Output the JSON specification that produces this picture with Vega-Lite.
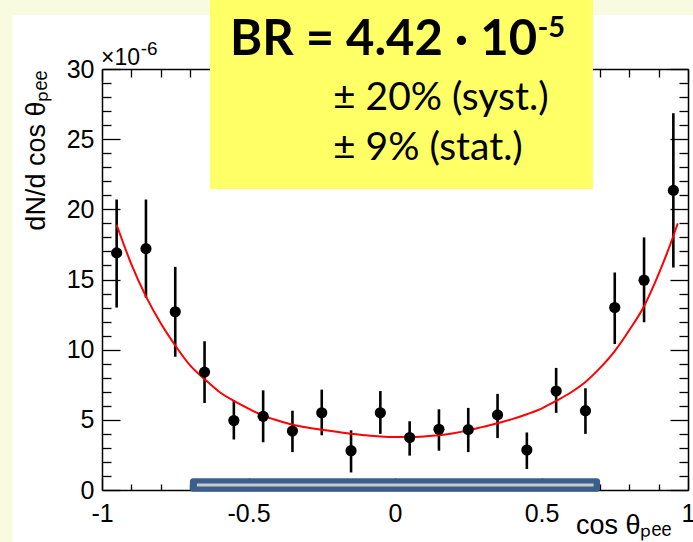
{
  "$schema": "https://vega.github.io/schema/vega-lite/v6.json",
  "width": 586,
  "height": 421,
  "autosize": {"type": "none"},
  "padding": {"left": 102, "top": 69, "right": 5, "bottom": 52},
  "background": "white",
  "config": {
    "view": {"stroke": null},
    "axis": {"grid": false, "zindex": 0, "domainColor": "black", "tickColor": "black", "labelColor": "black", "titleColor": "black", "domainWidth": 1.5, "tickWidth": 1.3}
  },
  "data": {"values": [{}]},
  "datasets": {
    "points": [
      {"x": -0.95, "y": 16.9, "lo": 13.0, "hi": 20.7},
      {"x": -0.85, "y": 17.2, "lo": 13.7, "hi": 20.7},
      {"x": -0.75, "y": 12.7, "lo": 9.5, "hi": 15.9},
      {"x": -0.65, "y": 8.4, "lo": 6.2, "hi": 10.6},
      {"x": -0.55, "y": 4.95, "lo": 3.6, "hi": 6.4},
      {"x": -0.45, "y": 5.25, "lo": 3.4, "hi": 7.1},
      {"x": -0.35, "y": 4.2, "lo": 2.7, "hi": 5.65},
      {"x": -0.25, "y": 5.5, "lo": 3.9, "hi": 7.15},
      {"x": -0.15, "y": 2.8, "lo": 1.25, "hi": 4.25},
      {"x": -0.05, "y": 5.5, "lo": 4.0, "hi": 7.05},
      {"x": 0.05, "y": 3.74, "lo": 2.45, "hi": 4.9},
      {"x": 0.15, "y": 4.33, "lo": 2.8, "hi": 5.75},
      {"x": 0.25, "y": 4.3, "lo": 2.7, "hi": 5.85},
      {"x": 0.35, "y": 5.35, "lo": 3.7, "hi": 6.85},
      {"x": 0.45, "y": 2.85, "lo": 1.5, "hi": 4.1},
      {"x": 0.55, "y": 7.05, "lo": 5.5, "hi": 8.7},
      {"x": 0.65, "y": 5.65, "lo": 4.0, "hi": 7.25},
      {"x": 0.75, "y": 13.0, "lo": 10.4, "hi": 15.5},
      {"x": 0.85, "y": 14.95, "lo": 11.95, "hi": 18.0},
      {"x": 0.95, "y": 21.35, "lo": 15.85, "hi": 26.85}
    ],
    "curve": [
      {"x": -0.95, "y": 18.9}, {"x": -0.9, "y": 16.1}, {"x": -0.85, "y": 13.8}, {"x": -0.8, "y": 11.9},
      {"x": -0.75, "y": 10.3}, {"x": -0.7, "y": 8.9}, {"x": -0.65, "y": 7.9}, {"x": -0.6, "y": 7.0},
      {"x": -0.55, "y": 6.35}, {"x": -0.5, "y": 5.8}, {"x": -0.45, "y": 5.3}, {"x": -0.4, "y": 4.95},
      {"x": -0.35, "y": 4.65}, {"x": -0.3, "y": 4.45}, {"x": -0.25, "y": 4.3}, {"x": -0.2, "y": 4.15},
      {"x": -0.15, "y": 4.0}, {"x": -0.1, "y": 3.9}, {"x": -0.05, "y": 3.82}, {"x": 0, "y": 3.78},
      {"x": 0.05, "y": 3.78}, {"x": 0.1, "y": 3.82}, {"x": 0.15, "y": 3.9}, {"x": 0.2, "y": 4.05},
      {"x": 0.25, "y": 4.25}, {"x": 0.3, "y": 4.5}, {"x": 0.35, "y": 4.75}, {"x": 0.4, "y": 5.05},
      {"x": 0.45, "y": 5.4}, {"x": 0.5, "y": 5.8}, {"x": 0.55, "y": 6.35}, {"x": 0.6, "y": 6.95},
      {"x": 0.65, "y": 7.7}, {"x": 0.7, "y": 8.7}, {"x": 0.75, "y": 9.9}, {"x": 0.8, "y": 11.4},
      {"x": 0.85, "y": 13.1}, {"x": 0.9, "y": 15.4}, {"x": 0.95, "y": 18.1}, {"x": 0.965, "y": 19.0}
    ]
  },
  "layer": [
    {
      "mark": {"type": "rect", "color": "#F9FBE0"},
      "encoding": {
        "x": {"datum": -1.35, "type": "quantitative", "axis": null, "scale": {"domain": [-1, 1], "nice": false, "zero": false}},
        "x2": {"datum": -1.306},
        "y": {"datum": 34.92, "type": "quantitative", "axis": null, "scale": {"domain": [0, 30], "nice": false, "zero": false}},
        "y2": {"datum": -3.71}
      }
    },
    {
      "mark": {"type": "rect", "color": "#F9FBE0"},
      "encoding": {
        "x": {"datum": -1.35, "type": "quantitative", "axis": null},
        "x2": {"datum": 1.05},
        "y": {"datum": 34.92, "type": "quantitative", "axis": null},
        "y2": {"datum": 33.85}
      }
    },
    {
      "mark": {"type": "rect", "color": "#FFFF66"},
      "encoding": {
        "x": {"datum": -0.6314, "type": "quantitative", "axis": null},
        "x2": {"datum": 0.6758},
        "y": {"datum": 34.92, "type": "quantitative", "axis": null},
        "y2": {"datum": 21.45}
      }
    },
    {
      "data": {"name": "points"},
      "mark": {"type": "rule", "color": "black", "strokeWidth": 2.6},
      "encoding": {
        "x": {"field": "x", "type": "quantitative",
          "axis": {"orient": "bottom", "values": [-1, -0.5, 0, 0.5, 1], "tickSize": -12, "labelPadding": 23, "labelFlush": false,
            "labelExpr": "toString(datum.value)", "labelFont": "Liberation Sans", "labelFontSize": 25,
            "title": "cos θₚₑₑ", "titleFont": "Liberation Sans", "titleFontSize": 27, "titleFontWeight": "normal",
            "titleX": 569, "titleY": 43, "titleAlign": "right", "titleBaseline": "alphabetic"}},
        "y": {"field": "lo", "type": "quantitative",
          "axis": {"orient": "left", "values": [0, 5, 10, 15, 20, 25, 30], "tickSize": -18, "labelPadding": 26,
            "labelExpr": "toString(datum.value)", "labelFont": "Liberation Sans", "labelFontSize": 25, "labelBaseline": "middle",
            "title": "dN/d cos θₚₑₑ", "titleFont": "Liberation Sans", "titleFontSize": 27, "titleFontWeight": "normal",
            "titleAngle": -90, "titleX": -58, "titleY": 1, "titleAlign": "right", "titleBaseline": "alphabetic"}},
        "y2": {"field": "hi"}
      }
    },
    {
      "data": {"name": "curve"},
      "mark": {"type": "line", "color": "#FF0000", "strokeWidth": 2, "interpolate": "monotone"},
      "encoding": {
        "x": {"field": "x", "type": "quantitative",
          "axis": {"orient": "top", "values": [-1, -0.5, 0, 0.5, 1], "tickSize": -12, "labels": false, "title": null}},
        "y": {"field": "y", "type": "quantitative",
          "axis": {"orient": "right", "values": [0, 5, 10, 15, 20, 25, 30], "tickSize": -18, "labels": false, "title": null}}
      }
    },
    {
      "data": {"name": "points"},
      "mark": {"type": "circle", "color": "black", "size": 125, "opacity": 1},
      "encoding": {
        "x": {"field": "x", "type": "quantitative",
          "axis": {"orient": "bottom", "values": [-0.9, -0.8, -0.7, -0.6, -0.4, -0.3, -0.2, -0.1, 0.1, 0.2, 0.3, 0.4, 0.6, 0.7, 0.8, 0.9], "tickSize": -6, "labels": false, "domain": false, "title": null}},
        "y": {"field": "y", "type": "quantitative",
          "axis": {"orient": "left", "values": [1,2,3,4,6,7,8,9,11,12,13,14,16,17,18,19,21,22,23,24,26,27,28,29], "tickSize": -9, "labels": false, "domain": false, "title": null}}
      }
    },
    {
      "mark": {"type": "rect", "color": "#3B5F8C", "cornerRadius": 3},
      "encoding": {
        "x": {"datum": -0.7, "type": "quantitative",
          "axis": {"orient": "top", "values": [-0.9, -0.8, -0.7, -0.6, -0.4, -0.3, -0.2, -0.1, 0.1, 0.2, 0.3, 0.4, 0.6, 0.7, 0.8, 0.9], "tickSize": -8, "labels": false, "domain": false, "title": null}},
        "x2": {"datum": 0.7},
        "y": {"datum": 0.83, "type": "quantitative",
          "axis": {"orient": "right", "values": [1,2,3,4,6,7,8,9,11,12,13,14,16,17,18,19,21,22,23,24,26,27,28,29], "tickSize": -9, "labels": false, "domain": false, "title": null}},
        "y2": {"datum": -0.12}
      }
    },
    {
      "mark": {"type": "rule", "color": "#C8C8C8", "strokeWidth": 3},
      "encoding": {
        "x": {"datum": -0.676, "type": "quantitative", "axis": null},
        "x2": {"datum": 0.678},
        "y": {"datum": 0.36, "type": "quantitative", "axis": null}
      }
    },
    {
      "mark": {"type": "text", "text": "×10", "font": "Liberation Sans", "fontSize": 23, "align": "left", "baseline": "alphabetic", "color": "black"},
      "encoding": {
        "x": {"datum": -1.003, "type": "quantitative", "axis": null},
        "y": {"datum": 30.29, "type": "quantitative", "axis": null}
      }
    },
    {
      "mark": {"type": "text", "text": "-6", "font": "Liberation Sans", "fontSize": 19, "align": "left", "baseline": "alphabetic", "color": "black"},
      "encoding": {
        "x": {"datum": -0.868, "type": "quantitative", "axis": null},
        "y": {"datum": 31.0, "type": "quantitative", "axis": null}
      }
    },
    {
      "mark": {"type": "text", "text": "BR = 4.42 · 10", "font": "Lato", "fontWeight": "bold", "fontSize": 49, "align": "left", "baseline": "alphabetic", "color": "black"},
      "encoding": {
        "x": {"datum": -0.563, "type": "quantitative", "axis": null},
        "y": {"datum": 31.0, "type": "quantitative", "axis": null}
      }
    },
    {
      "mark": {"type": "text", "text": "-5", "font": "Lato", "fontWeight": "bold", "fontSize": 29, "align": "left", "baseline": "alphabetic", "color": "black"},
      "encoding": {
        "x": {"datum": 0.486, "type": "quantitative", "axis": null},
        "y": {"datum": 32.28, "type": "quantitative", "axis": null}
      }
    },
    {
      "mark": {"type": "text", "text": "± 20% (syst.)", "font": "Lato", "fontSize": 39, "align": "left", "baseline": "alphabetic", "color": "black"},
      "encoding": {
        "x": {"datum": -0.2116, "type": "quantitative", "axis": null},
        "y": {"datum": 27.08, "type": "quantitative", "axis": null}
      }
    },
    {
      "mark": {"type": "text", "text": "± 9% (stat.)", "font": "Lato", "fontSize": 39, "align": "left", "baseline": "alphabetic", "color": "black"},
      "encoding": {
        "x": {"datum": -0.2116, "type": "quantitative", "axis": null},
        "y": {"datum": 23.52, "type": "quantitative", "axis": null}
      }
    }
  ],
  "resolve": {"axis": {"x": "independent", "y": "independent"}}
}
